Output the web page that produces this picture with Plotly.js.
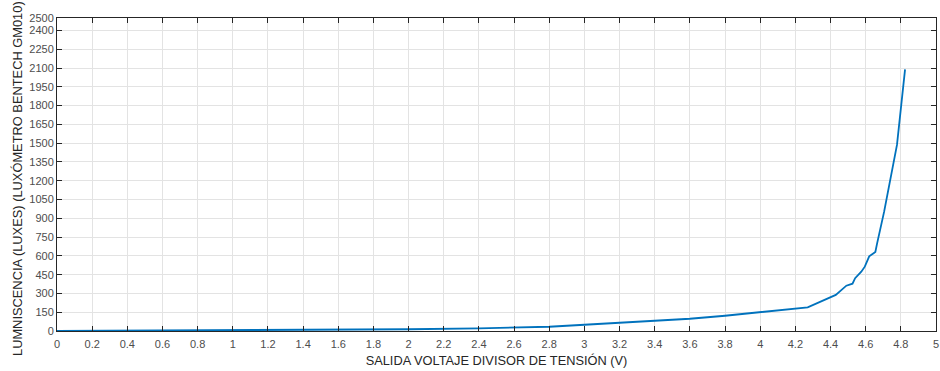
<!DOCTYPE html>
<html><head><meta charset="utf-8">
<script src="https://cdn.plot.ly/plotly-3.0.1.min.js"></script>
<style>html,body{margin:0;padding:0;background:#fff;}#plot{width:940px;height:371px;}</style>
</head><body><div id="plot"></div>
<script>
const voltage = [0, 0.5, 1, 1.5, 2, 2.4, 2.65, 2.8, 3.0, 3.3, 3.6, 3.8, 4.0, 4.27, 4.43, 4.49, 4.525, 4.54, 4.575, 4.595, 4.62, 4.655, 4.665, 4.705, 4.778, 4.824];
const lux = [0, 2, 5, 9, 14, 21, 26, 34, 50, 74, 98, 122, 152, 189, 288, 362, 378, 422, 474, 514, 596, 631, 700, 953, 1486, 2090];
const xTicks = [0,0.2,0.4,0.6,0.8,1,1.2,1.4,1.6,1.8,2,2.2,2.4,2.6,2.8,3,3.2,3.4,3.6,3.8,4,4.2,4.4,4.6,4.8,5];
const xTickLabels = ["0","0.2","0.4","0.6","0.8","1","1.2","1.4","1.6","1.8","2","2.2","2.4","2.6","2.8","3","3.2","3.4","3.6","3.8","4","4.2","4.4","4.6","4.8","5"];
const yTicks = [0,150,300,450,600,750,900,1050,1200,1350,1500,1650,1800,1950,2100,2250,2400,2500];
const yTickLabels = yTicks.map(String);
const yTitle = 'LUMNISCENCIA (LUXES) (LUXÓMETRO BENTECH GM010)';
const xTitle = 'SALIDA VOLTAJE DIVISOR DE TENSIÓN (V)';

const axisCommon = {
  showgrid: true, gridcolor: '#e3e3e3', gridwidth: 1,
  showline: true, linecolor: '#262626', linewidth: 1, mirror: 'ticks',
  ticks: 'inside', ticklen: 5, tickcolor: '#262626', tickwidth: 1,
  zeroline: false, tickmode: 'array',
  tickfont: {family: 'Liberation Sans, Arial, sans-serif', size: 11, color: '#4d4d4d'}
};
const layout = {
  width: 940, height: 371,
  margin: {l: 57, r: 4, t: 18, b: 40},
  paper_bgcolor: '#fff', plot_bgcolor: '#fff',
  showlegend: false,
  xaxis: Object.assign({}, axisCommon, {
    range: [0, 5], tickvals: xTicks, ticktext: xTickLabels, ticklabelstandoff: 3,
    title: {text: xTitle, standoff: 6,
      font: {family: 'Liberation Sans, Arial, sans-serif', size: 12.8, color: '#262626'}}
  }),
  yaxis: Object.assign({}, axisCommon, {
    range: [0, 2500], tickvals: yTicks, ticktext: yTickLabels
  }),
  annotations: [{
    text: yTitle, textangle: -90, showarrow: false,
    xref: 'paper', yref: 'paper', x: -0.0455, y: 0.4856,
    xanchor: 'center', yanchor: 'middle',
    font: {family: 'Liberation Sans, Arial, sans-serif', size: 12.85, color: '#262626'}
  }]
};
Plotly.newPlot('plot', [{
  x: voltage, y: lux, type: 'scatter', mode: 'lines',
  line: {color: '#0072BD', width: 1.8}
}], layout, {staticPlot: true, displayModeBar: false});
</script></body></html>
